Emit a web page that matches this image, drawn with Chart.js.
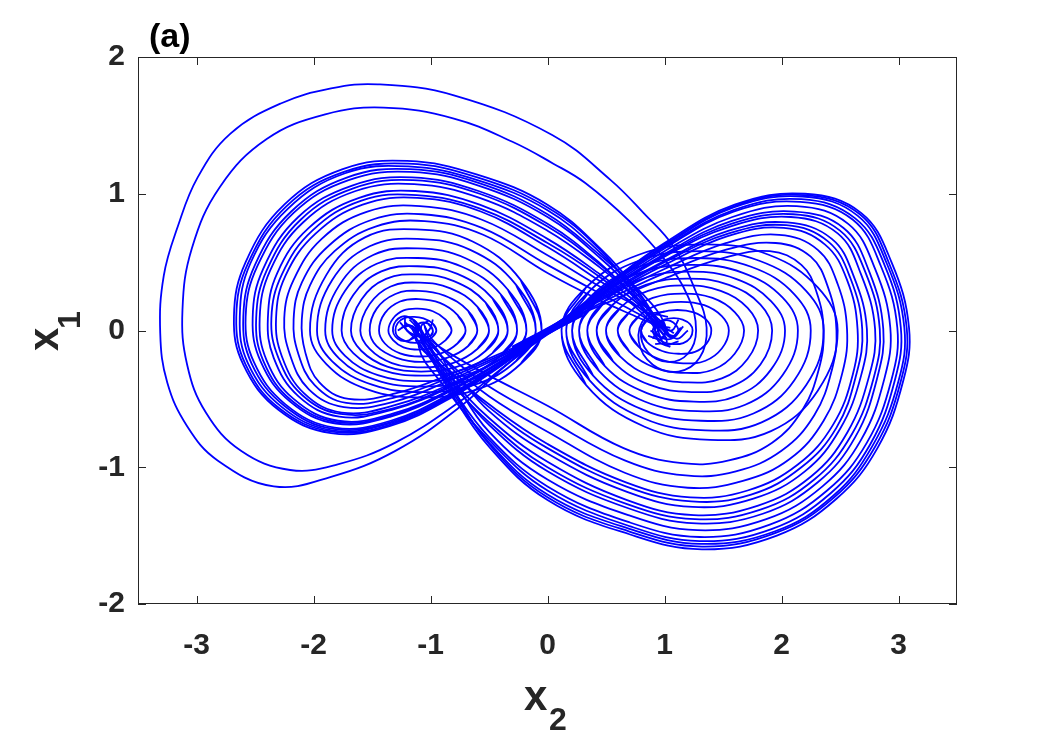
<!DOCTYPE html>
<html>
<head>
<meta charset="utf-8">
<script src="https://cdn.jsdelivr.net/npm/chart.js@4.4.0/dist/chart.umd.min.js"></script>
<style>
  html, body { margin: 0; padding: 0; background: #fff; }
  #wrap { width: 1057px; height: 738px; }
</style>
</head>
<body>
<div id="wrap"><canvas id="attractor"></canvas></div>
<script>
// tick values
const xTicks = [-3, -2, -1, 0, 1, 2, 3];
const yTicks = [-2, -1, 0, 1, 2];

// the two wide excursions round the left lobe, ending in the right spiral
const outerLoops = [
    [[0.35,0.17],[0.0,-0.02],[-0.35,-0.25],[-0.75,-0.56],[-1.3,-0.88],[-1.85,-1.07],[-2.34,-1.14],[-2.82,-0.95],[-3.08,-0.7],[-3.25,-0.38],[-3.31,-0.02],[-3.28,0.4],[-3.16,0.76],[-2.99,1.12],[-2.71,1.44],[-2.28,1.66],[-1.85,1.77],[-1.45,1.8],[-0.8,1.72],[0.04,1.43],[0.54,1.1],[0.82,0.86],[1.08,0.61],[1.26,0.3],[1.36,0.02],[1.3,-0.2],[1.12,-0.3],[0.9,-0.25],[0.78,-0.08],[0.84,0.1],[1.0,0.14]],
    [[0.35,0.15],[0.0,-0.03],[-0.35,-0.25],[-0.75,-0.52],[-1.3,-0.82],[-1.8,-0.98],[-2.2,-1.02],[-2.62,-0.88],[-2.92,-0.6],[-3.08,-0.25],[-3.12,0.15],[-3.04,0.6],[-2.8,1.05],[-2.4,1.4],[-1.9,1.58],[-1.4,1.63],[-0.8,1.55],[-0.3,1.38],[0.05,1.22],[0.32,1.08],[0.7,0.8],[1.0,0.52],[1.2,0.25],[1.27,0.0],[1.2,-0.17],[1.03,-0.23],[0.86,-0.16],[0.8,0.0],[0.9,0.11],[1.03,0.1]]
];

// left lobe band: through the saddle, round the left, over the top into the right centre
const leftArcs = [
    [[0.3,0.17],[0,0.005],[-0.3,-0.2],[-0.8,-0.48],[-1.35,-0.7],[-1.85,-0.75],[-2.3,-0.58],[-2.6,-0.25],[-2.68,0.1],[-2.58,0.5],[-2.25,0.92],[-1.75,1.18],[-1.2,1.24],[-0.6,1.14],[0,0.92],[0.45,0.6],[0.78,0.28],[0.95,0.06],[1.05,-0.05],[1.14,0.02]],
    [[0.3,0.12],[0,-0.02],[-0.3,-0.2],[-0.8,-0.47],[-1.35,-0.69],[-1.84,-0.74],[-2.29,-0.57],[-2.58,-0.25],[-2.66,0.1],[-2.56,0.49],[-2.23,0.91],[-1.74,1.16],[-1.19,1.22],[-0.6,1.12],[0,0.9],[0.45,0.59],[0.74,0.27],[0.9,0.06],[1.02,-0.08],[0.92,-0.1]],
    [[0.3,0.14],[0,-0.01],[-0.3,-0.19],[-0.8,-0.47],[-1.35,-0.68],[-1.84,-0.73],[-2.27,-0.56],[-2.56,-0.24],[-2.63,0.1],[-2.54,0.49],[-2.22,0.89],[-1.73,1.15],[-1.19,1.2],[-0.6,1.1],[0,0.88],[0.45,0.57],[0.78,0.27],[0.95,0.06],[1.08,-0.02]],
    [[0.3,0.16],[0,0.0],[-0.3,-0.19],[-0.8,-0.46],[-1.34,-0.67],[-1.83,-0.72],[-2.25,-0.55],[-2.53,-0.24],[-2.6,0.1],[-2.5,0.48],[-2.19,0.87],[-1.71,1.12],[-1.18,1.18],[-0.59,1.08],[0,0.85],[0.45,0.55],[0.82,0.26],[1.0,0.05],[0.98,-0.06],[0.86,-0.04]],
    [[0.3,0.11],[0,-0.025],[-0.3,-0.19],[-0.8,-0.45],[-1.34,-0.66],[-1.82,-0.71],[-2.24,-0.54],[-2.51,-0.23],[-2.58,0.1],[-2.48,0.47],[-2.17,0.86],[-1.7,1.1],[-1.17,1.16],[-0.59,1.06],[0,0.83],[0.45,0.53],[0.78,0.25],[0.95,0.05],[1.06,0.0],[1.12,0.08]],
    [[0.3,0.15],[0,-0.005],[-0.3,-0.18],[-0.8,-0.43],[-1.34,-0.63],[-1.81,-0.68],[-2.2,-0.52],[-2.45,-0.23],[-2.52,0.09],[-2.43,0.45],[-2.13,0.83],[-1.67,1.06],[-1.16,1.12],[-0.59,1.02],[0,0.78],[0.45,0.49],[0.75,0.23],[0.92,0.05],[1.0,-0.1],[1.12,-0.08]],
    [[0.3,0.13],[0,-0.015],[-0.3,-0.18],[-0.8,-0.42],[-1.33,-0.62],[-1.8,-0.67],[-2.19,-0.51],[-2.43,-0.22],[-2.49,0.09],[-2.4,0.44],[-2.11,0.81],[-1.66,1.04],[-1.15,1.1],[-0.58,1.0],[0,0.76],[0.45,0.48],[0.78,0.22],[0.95,0.04],[0.9,-0.06]],
    [[0.3,0.17],[0,0.005],[-0.3,-0.17],[-0.8,-0.42],[-1.33,-0.61],[-1.79,-0.66],[-2.17,-0.5],[-2.4,-0.22],[-2.46,0.09],[-2.37,0.44],[-2.09,0.79],[-1.64,1.02],[-1.14,1.07],[-0.58,0.97],[0,0.73],[0.45,0.46],[0.8,0.21],[0.99,0.04],[1.04,-0.04],[1.0,0.04]],
    [[0.3,0.12],[0,-0.02],[-0.3,-0.16],[-0.8,-0.4],[-1.33,-0.58],[-1.78,-0.63],[-2.13,-0.48],[-2.34,-0.2],[-2.39,0.09],[-2.31,0.42],[-2.04,0.75],[-1.61,0.97],[-1.13,1.02],[-0.58,0.92],[0,0.67],[0.45,0.41],[0.78,0.19],[0.95,0.04],[1.1,-0.06],[1.2,0.0]],
    [[0.3,0.14],[0,-0.01],[-0.3,-0.16],[-0.8,-0.39],[-1.32,-0.57],[-1.77,-0.61],[-2.1,-0.47],[-2.3,-0.2],[-2.36,0.09],[-2.27,0.41],[-2.01,0.73],[-1.59,0.95],[-1.12,0.99],[-0.57,0.89],[0,0.64],[0.45,0.39],[0.74,0.18],[0.9,0.04],[0.95,-0.08],[1.05,-0.12]],
    [[0.3,0.16],[0,0.0],[-0.3,-0.16],[-0.8,-0.38],[-1.32,-0.55],[-1.76,-0.6],[-2.08,-0.46],[-2.27,-0.19],[-2.32,0.09],[-2.24,0.4],[-1.98,0.71],[-1.58,0.92],[-1.11,0.97],[-0.57,0.87],[0,0.61],[0.45,0.36],[0.78,0.17],[0.95,0.04],[1.05,0.02]],
    [[0.3,0.11],[0,-0.025],[-0.3,-0.15],[-0.8,-0.35],[-1.31,-0.52],[-1.74,-0.56],[-2.04,-0.43],[-2.2,-0.18],[-2.25,0.09],[-2.17,0.37],[-1.93,0.67],[-1.54,0.87],[-1.09,0.91],[-0.56,0.81],[0,0.55],[0.45,0.32],[0.82,0.15],[1.0,0.04],[0.98,-0.05],[0.88,0.0]],
    [[0.3,0.15],[0,-0.005],[-0.3,-0.14],[-0.8,-0.33],[-1.31,-0.49],[-1.72,-0.53],[-1.99,-0.4],[-2.13,-0.17],[-2.17,0.08],[-2.1,0.35],[-1.87,0.62],[-1.5,0.81],[-1.07,0.85],[-0.56,0.75],[0,0.48],[0.45,0.27],[0.78,0.12],[0.95,0.03],[1.08,-0.04],[1.16,0.03]],
    [[0.3,0.13],[0,-0.015],[-0.3,-0.13],[-0.8,-0.31],[-1.3,-0.46],[-1.7,-0.5],[-1.95,-0.38],[-2.07,-0.16],[-2.1,0.08],[-2.03,0.33],[-1.82,0.58],[-1.47,0.76],[-1.05,0.8],[-0.55,0.7],[0,0.42],[0.45,0.22],[0.76,0.1],[0.93,0.03],[1.02,-0.06]]
];

// right lobe band: through the saddle, over the right, under the bottom into the left centre
const rightArcs = [
    [[-0.3,-0.13],[0.08,0.05],[0.5,0.33],[1,0.64],[1.6,0.92],[2.2,1],[2.68,0.86],[2.94,0.5],[3.09,0.02],[3.04,-0.37],[2.82,-0.86],[2.47,-1.23],[1.96,-1.5],[1.32,-1.6],[0.7,-1.49],[0,-1.24],[-0.5,-0.85],[-0.85,-0.42],[-1.05,-0.12],[-1.15,0.03],[-1.25,0.02]],
    [[-0.3,-0.17],[0.08,0.03],[0.5,0.33],[1,0.63],[1.6,0.91],[2.19,0.99],[2.67,0.85],[2.92,0.49],[3.07,0.02],[3.02,-0.37],[2.8,-0.85],[2.45,-1.22],[1.95,-1.48],[1.32,-1.58],[0.7,-1.47],[0,-1.22],[-0.5,-0.83],[-0.82,-0.41],[-1.0,-0.12],[-1.1,0.04]],
    [[-0.3,-0.15],[0.08,0.04],[0.5,0.32],[1,0.62],[1.59,0.9],[2.18,0.98],[2.65,0.84],[2.9,0.49],[3.05,0.02],[3,-0.37],[2.78,-0.84],[2.44,-1.21],[1.94,-1.47],[1.31,-1.56],[0.7,-1.45],[0,-1.2],[-0.5,-0.82],[-0.85,-0.4],[-1.05,-0.12],[-1.18,-0.02],[-1.26,0.06]],
    [[-0.3,-0.12],[0.08,0.055],[0.5,0.32],[1,0.61],[1.59,0.88],[2.17,0.96],[2.63,0.82],[2.88,0.48],[3.02,0.02],[2.97,-0.36],[2.76,-0.83],[2.42,-1.19],[1.92,-1.45],[1.3,-1.54],[0.7,-1.43],[0,-1.17],[-0.5,-0.8],[-0.9,-0.39],[-1.1,-0.12],[-1.0,0.02],[-0.98,0.08]],
    [[-0.3,-0.16],[0.08,0.035],[0.5,0.31],[1,0.6],[1.59,0.87],[2.16,0.94],[2.61,0.81],[2.85,0.47],[2.99,0.02],[2.94,-0.36],[2.73,-0.82],[2.39,-1.17],[1.9,-1.42],[1.3,-1.51],[0.69,-1.4],[0,-1.14],[-0.5,-0.78],[-0.85,-0.38],[-1.05,-0.11],[-1.14,0.05]],
    [[-0.3,-0.14],[0.08,0.045],[0.5,0.3],[1,0.58],[1.58,0.83],[2.13,0.91],[2.57,0.78],[2.8,0.45],[2.93,0.02],[2.88,-0.35],[2.68,-0.8],[2.35,-1.14],[1.87,-1.38],[1.28,-1.46],[0.69,-1.35],[0,-1.09],[-0.5,-0.74],[-0.8,-0.36],[-0.98,-0.1],[-1.2,0.0],[-1.22,0.1]],
    [[-0.3,-0.18],[0.08,0.025],[0.5,0.29],[1,0.56],[1.57,0.8],[2.11,0.87],[2.53,0.75],[2.75,0.43],[2.87,0.01],[2.82,-0.34],[2.63,-0.78],[2.31,-1.11],[1.84,-1.34],[1.27,-1.41],[0.69,-1.3],[0,-1.03],[-0.5,-0.69],[-0.85,-0.34],[-1.05,-0.1],[-1.08,0.03],[-1.02,0.07]],
    [[-0.3,-0.13],[0.08,0.05],[0.5,0.29],[1,0.55],[1.57,0.78],[2.1,0.85],[2.5,0.73],[2.72,0.42],[2.84,0.01],[2.79,-0.34],[2.6,-0.76],[2.28,-1.09],[1.82,-1.31],[1.26,-1.38],[0.68,-1.27],[0,-1.0],[-0.5,-0.67],[-0.88,-0.33],[-1.09,-0.1],[-1.16,0.02]],
    [[-0.3,-0.15],[0.08,0.04],[0.5,0.28],[1,0.54],[1.56,0.76],[2.08,0.83],[2.48,0.71],[2.68,0.41],[2.8,0.01],[2.75,-0.33],[2.56,-0.75],[2.25,-1.07],[1.8,-1.28],[1.25,-1.35],[0.68,-1.24],[0,-0.96],[-0.5,-0.64],[-0.85,-0.32],[-1.04,-0.09],[-1.12,0.06],[-1.2,0.1]],
    [[-0.3,-0.17],[0.08,0.03],[0.5,0.27],[1,0.51],[1.55,0.73],[2.05,0.79],[2.43,0.67],[2.62,0.39],[2.73,0.01],[2.68,-0.33],[2.5,-0.72],[2.2,-1.03],[1.76,-1.23],[1.24,-1.29],[0.68,-1.18],[0,-0.9],[-0.5,-0.59],[-0.8,-0.29],[-1.0,-0.09],[-1.05,0.03]],
    [[-0.3,-0.12],[0.08,0.055],[0.5,0.26],[1,0.5],[1.55,0.71],[2.04,0.77],[2.4,0.65],[2.59,0.38],[2.69,0.01],[2.64,-0.32],[2.47,-0.71],[2.17,-1.0],[1.74,-1.2],[1.23,-1.25],[0.67,-1.14],[0,-0.86],[-0.5,-0.56],[-0.85,-0.28],[-1.04,-0.09],[-1.18,0.04],[-1.28,0.0]],
    [[-0.3,-0.16],[0.08,0.035],[0.5,0.25],[1,0.48],[1.54,0.69],[2.02,0.75],[2.37,0.63],[2.56,0.37],[2.65,0.01],[2.61,-0.32],[2.44,-0.69],[2.14,-0.98],[1.71,-1.17],[1.22,-1.22],[0.67,-1.11],[0,-0.83],[-0.5,-0.54],[-0.9,-0.26],[-1.12,-0.08],[-1.1,0.05]],
    [[-0.3,-0.14],[0.08,0.045],[0.5,0.24],[1,0.45],[1.53,0.64],[1.98,0.7],[2.31,0.59],[2.48,0.34],[2.56,0.01],[2.52,-0.31],[2.36,-0.66],[2.07,-0.94],[1.67,-1.1],[1.2,-1.15],[0.66,-1.04],[0,-0.74],[-0.5,-0.48],[-0.85,-0.23],[-1.04,-0.07],[-1.14,0.0],[-1.22,0.06]],
    [[-0.3,-0.18],[0.08,0.025],[0.5,0.22],[1,0.42],[1.52,0.59],[1.95,0.64],[2.25,0.54],[2.4,0.31],[2.47,0],[2.43,-0.29],[2.28,-0.62],[2,-0.88],[1.61,-1.03],[1.18,-1.06],[0.66,-0.95],[0,-0.65],[-0.5,-0.41],[-0.82,-0.2],[-0.99,-0.06],[-1.06,0.05]],
    [[-0.3,-0.15],[0.08,0.04],[0.5,0.2],[1,0.38],[1.5,0.53],[1.9,0.58],[2.17,0.48],[2.3,0.28],[2.36,0],[2.32,-0.28],[2.18,-0.58],[1.92,-0.82],[1.55,-0.95],[1.15,-0.97],[0.65,-0.86],[0,-0.55],[-0.5,-0.33],[-0.85,-0.16],[-1.03,-0.05],[-1.12,0.03],[-1.18,0.08]]
];

// nested closed loops round the left centre, rounded tip towards the saddle
const leftOvals = [
    [[-0.95,0],[-0.98,-0.045],[-1.05,-0.079],[-1.13,-0.09],[-1.21,-0.079],[-1.28,-0.045],[-1.3,0],[-1.28,0.055],[-1.22,0.092],[-1.14,0.1],[-1.06,0.088],[-0.98,0.05],[-0.95,0]],
    [[-0.82,0],[-0.87,-0.07],[-0.97,-0.123],[-1.1,-0.14],[-1.23,-0.123],[-1.32,-0.07],[-1.36,0],[-1.32,0.088],[-1.23,0.147],[-1.11,0.16],[-0.98,0.141],[-0.87,0.08],[-0.82,0]],
    [[-0.7,0],[-0.77,-0.095],[-0.91,-0.167],[-1.09,-0.19],[-1.26,-0.167],[-1.39,-0.095],[-1.44,0],[-1.39,0.127],[-1.26,0.212],[-1.1,0.23],[-0.92,0.202],[-0.77,0.115],[-0.7,0]],
    [[-0.6,0],[-0.68,-0.115],[-0.86,-0.2],[-1.08,-0.23],[-1.29,-0.2],[-1.46,-0.115],[-1.52,0],[-1.46,0.16],[-1.3,0.267],[-1.1,0.29],[-0.88,0.255],[-0.68,0.145],[-0.6,0]],
    [[-0.5,0],[-0.6,-0.135],[-0.81,-0.238],[-1.07,-0.27],[-1.33,-0.238],[-1.52,-0.135],[-1.6,0],[-1.52,0.193],[-1.34,0.322],[-1.09,0.35],[-0.83,0.308],[-0.6,0.175],[-0.5,0]],
    [[-0.42,0],[-0.53,-0.15],[-0.77,-0.264],[-1.08,-0.3],[-1.37,-0.264],[-1.59,-0.15],[-1.68,0],[-1.59,0.226],[-1.38,0.377],[-1.1,0.41],[-0.8,0.361],[-0.53,0.205],[-0.42,0]],
    [[-0.34,0],[-0.47,-0.165],[-0.74,-0.29],[-1.08,-0.33],[-1.41,-0.29],[-1.66,-0.165],[-1.76,0],[-1.66,0.259],[-1.42,0.432],[-1.11,0.47],[-0.77,0.414],[-0.47,0.235],[-0.34,0]],
    [[-0.26,0],[-0.4,-0.185],[-0.7,-0.326],[-1.08,-0.37],[-1.45,-0.326],[-1.73,-0.185],[-1.84,0],[-1.73,0.29],[-1.46,0.488],[-1.11,0.53],[-0.73,0.466],[-0.4,0.265],[-0.26,0]],
    [[-0.18,0],[-0.34,-0.205],[-0.66,-0.361],[-1.07,-0.41],[-1.47,-0.361],[-1.78,-0.205],[-1.9,0],[-1.78,0.33],[-1.49,0.552],[-1.11,0.6],[-0.7,0.528],[-0.34,0.3],[-0.18,0]],
    [[-0.1,0],[-0.27,-0.225],[-0.62,-0.396],[-1.07,-0.45],[-1.5,-0.396],[-1.84,-0.225],[-1.97,0],[-1.84,0.369],[-1.52,0.616],[-1.11,0.67],[-0.66,0.59],[-0.27,0.335],[-0.1,0]],
    [[-0.05,0],[-0.23,-0.245],[-0.6,-0.431],[-1.08,-0.49],[-1.54,-0.431],[-1.89,-0.245],[-2.03,0],[-1.89,0.407],[-1.56,0.681],[-1.12,0.74],[-0.64,0.651],[-0.23,0.37],[-0.05,0]]
];

// nested closed loops round the right centre
const rightOvals = [
    [[0.9,0],[0.93,0.045],[0.995,0.079],[1.08,0.09],[1.155,0.079],[1.22,0.045],[1.24,0],[1.22,-0.055],[1.16,-0.092],[1.08,-0.1],[1.0,-0.088],[0.93,-0.05],[0.9,0]],
    [[0.8,0],[0.85,0.075],[0.97,0.132],[1.11,0.15],[1.25,0.132],[1.36,0.075],[1.4,0],[1.36,-0.094],[1.26,-0.156],[1.12,-0.17],[0.98,-0.15],[0.85,-0.085],[0.8,0]],
    [[0.7,0],[0.78,0.105],[0.94,0.185],[1.14,0.21],[1.34,0.185],[1.49,0.105],[1.55,0],[1.49,-0.132],[1.35,-0.221],[1.16,-0.24],[0.96,-0.211],[0.78,-0.12],[0.7,0]],
    [[0.6,0],[0.7,0.135],[0.9,0.238],[1.16,0.27],[1.41,0.238],[1.6,0.135],[1.68,0],[1.6,-0.17],[1.42,-0.285],[1.18,-0.31],[0.92,-0.273],[0.7,-0.155],[0.6,0]],
    [[0.5,0],[0.62,0.165],[0.86,0.29],[1.18,0.33],[1.48,0.29],[1.71,0.165],[1.8,0],[1.71,-0.209],[1.49,-0.35],[1.2,-0.38],[0.89,-0.334],[0.62,-0.19],[0.5,0]],
    [[0.42,0],[0.56,0.19],[0.84,0.334],[1.2,0.38],[1.55,0.334],[1.82,0.19],[1.92,0],[1.82,-0.248],[1.56,-0.414],[1.23,-0.45],[0.87,-0.396],[0.56,-0.225],[0.42,0]],
    [[0.34,0],[0.49,0.215],[0.81,0.378],[1.22,0.43],[1.61,0.378],[1.91,0.215],[2.03,0],[1.91,-0.286],[1.62,-0.478],[1.25,-0.52],[0.85,-0.458],[0.49,-0.26],[0.34,0]],
    [[0.27,0],[0.44,0.24],[0.79,0.422],[1.24,0.48],[1.67,0.422],[2.01,0.24],[2.14,0],[2.01,-0.325],[1.69,-0.543],[1.28,-0.59],[0.83,-0.519],[0.44,-0.295],[0.27,0]],
    [[0.21,0],[0.39,0.265],[0.78,0.466],[1.27,0.53],[1.74,0.466],[2.11,0.265],[2.25,0],[2.11,-0.363],[1.76,-0.607],[1.31,-0.66],[0.82,-0.581],[0.39,-0.33],[0.21,0]],
    [[0.16,0],[0.36,0.29],[0.78,0.51],[1.3,0.58],[1.81,0.51],[2.21,0.29],[2.36,0],[2.21,-0.4],[1.83,-0.672],[1.35,-0.73],[0.82,-0.642],[0.36,-0.365],[0.16,0]],
    [[0.12,0],[0.33,0.315],[0.78,0.554],[1.35,0.63],[1.89,0.554],[2.31,0.315],[2.48,0],[2.31,-0.44],[1.91,-0.736],[1.39,-0.8],[0.83,-0.704],[0.33,-0.4],[0.12,0]]
];

// tiny curls at the two centres
const centerSpirals = [
    [[-1.1,0],[-1.15,0.08],[-1.25,0.1],[-1.32,0.02],[-1.28,-0.06],[-1.18,-0.07],[-1.1,0]],
    [[-0.98,0],[-1.02,0.05],[-1.1,0.05],[-1.13,0],[-1.08,-0.05],[-1.0,-0.04],[-0.98,0]],
    [[0.92,0],[0.96,0.06],[1.05,0.07],[1.12,0],[1.06,-0.06],[0.97,-0.05],[0.92,0]]
];

const FONT = '"Liberation Sans", Arial, Helvetica, sans-serif';
const AXIS_COLOR = '#262626';

const curves = [...outerLoops, ...leftArcs, ...rightArcs, ...leftOvals, ...rightOvals, ...centerSpirals];

// closed loops get their neighbours across the seam so the spline has no corner there
function toPoints(c) {
    const first = c[0], last = c[c.length - 1];
    const closed = first[0] === last[0] && first[1] === last[1];
    const pts = closed ? [c[c.length - 2], ...c, c[1]] : c;
    return pts.map(p => ({ x: p[0], y: p[1] }));
}

// box, inward ticks on all four sides, panel letter and sub-scripted axis names
const framePlugin = {
    id: 'frame',
    afterDraw(chart) {
        const { ctx, chartArea: a, scales } = chart;
        const t = 8;
        ctx.save();
        ctx.strokeStyle = AXIS_COLOR;
        ctx.lineWidth = 1;
        ctx.strokeRect(a.left + 0.5, a.top + 0.5, a.right - a.left - 1, a.bottom - a.top - 1);
        ctx.beginPath();
        xTicks.forEach(v => {
            const px = Math.round(scales.x.getPixelForValue(v)) + 0.5;
            ctx.moveTo(px, a.bottom); ctx.lineTo(px, a.bottom - t);
            ctx.moveTo(px, a.top); ctx.lineTo(px, a.top + t);
        });
        yTicks.forEach(v => {
            const py = Math.round(scales.y.getPixelForValue(v)) + 0.5;
            ctx.moveTo(a.left, py); ctx.lineTo(a.left + t, py);
            ctx.moveTo(a.right, py); ctx.lineTo(a.right - t, py);
        });
        ctx.stroke();

        ctx.fillStyle = '#000';
        ctx.textBaseline = 'alphabetic';
        ctx.textAlign = 'left';
        ctx.font = 'bold 34px ' + FONT;
        ctx.fillText('(a)', 149, 47);

        ctx.fillStyle = AXIS_COLOR;
        ctx.font = 'bold 42px ' + FONT;
        ctx.fillText('x', 524, 710);
        ctx.font = 'bold 32px ' + FONT;
        ctx.fillText('2', 549, 730);

        ctx.translate(58, 351);
        ctx.rotate(-Math.PI / 2);
        ctx.font = 'bold 42px ' + FONT;
        ctx.fillText('x', 0, 0);
        ctx.font = 'bold 32px ' + FONT;
        ctx.fillText('1', 22, 22);
        ctx.restore();
    }
};

function initChart() {
    const ctx = document.getElementById('attractor').getContext('2d');
    new Chart(ctx, {
        type: 'scatter',
        data: {
            datasets: curves.map(c => ({
                data: toPoints(c),
                showLine: true,
                borderColor: '#0000ff',
                borderWidth: 1.8,
                pointRadius: 0,
                tension: 0.4,
                fill: false
            }))
        },
        options: {
            responsive: true,
            maintainAspectRatio: false,
            devicePixelRatio: 1,
            animation: false,
            layout: { padding: { left: 0, right: 100, top: 57, bottom: 0 } },
            plugins: { legend: { display: false }, tooltip: { enabled: false } },
            scales: {
                x: {
                    type: 'linear',
                    min: -3.5,
                    max: 3.5,
                    afterBuildTicks: s => { s.ticks = xTicks.map(v => ({ value: v })); },
                    afterFit: s => { s.height = 134; },
                    grid: { display: false, drawTicks: false },
                    border: { display: false },
                    ticks: {
                        color: AXIS_COLOR,
                        font: { family: FONT, size: 30, weight: 'bold' },
                        padding: 24,
                        autoSkip: false,
                        maxRotation: 0
                    }
                },
                y: {
                    type: 'linear',
                    min: -2,
                    max: 2,
                    afterBuildTicks: s => { s.ticks = yTicks.map(v => ({ value: v })); },
                    afterFit: s => { s.width = 138; },
                    grid: { display: false, drawTicks: false },
                    border: { display: false },
                    ticks: {
                        color: AXIS_COLOR,
                        font: { family: FONT, size: 30, weight: 'bold' },
                        padding: 13,
                        autoSkip: false
                    }
                }
            }
        },
        plugins: [framePlugin]
    });
}

document.addEventListener('DOMContentLoaded', initChart);
</script>
</body>
</html>
